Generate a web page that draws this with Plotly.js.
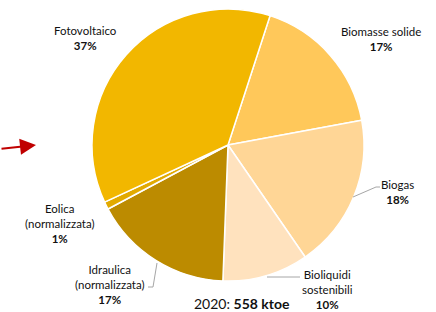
<!DOCTYPE html>
<html><head><meta charset="utf-8">
<script src="https://cdn.plot.ly/plotly-3.0.1.min.js"></script>
<style>html,body{margin:0;padding:0;background:#fff}#c{width:436px;height:312px}</style>
</head><body><div id="c"></div>
<script>
const categories = ["Biomasse solide", "Biogas", "Bioliquidi sostenibili", "Idraulica (normalizzata)", "Eolica (normalizzata)", "Fotovoltaico"];
const labelLines = [["Biomasse solide"], ["Biogas"], ["Bioliquidi", "sostenibili"], ["Idraulica", "(normalizzata)"], ["Eolica", "(normalizzata)"], ["Fotovoltaico"]];
const shares = [17.1, 18.3, 10.2, 16.6, 0.9, 36.9];
const colors = ["#FFC85A", "#FFD696", "#FFE2BE", "#BC8B00", "#E2AA00", "#F2B700"];
const yearLabel = "2020";
const totalLabel = "558 ktoe";

const W = 436, H = 312;
const px = x => x / W, py = y => 1 - y / H;
const labelPos = [[381, 30], [397, 183], [327, 273], [110, 268], [60, 207], [85, 29]];
const font = {family: "Lato, 'Open Sans', sans-serif", size: 11.5, color: "#111"};

const annotations = categories.map((c, i) => ({
  xref: "paper", yref: "paper", x: px(labelPos[i][0]), y: py(labelPos[i][1] - 7),
  xanchor: "center", yanchor: "top", showarrow: false, align: "center",
  text: labelLines[i].join("<br>") + "<br><b>" + Math.round(shares[i]) + "%</b>",
  font: font
}));
annotations.push({
  xref: "paper", yref: "paper", x: px(242), y: py(303), xanchor: "center", yanchor: "middle",
  showarrow: false, text: yearLabel + ": <b>" + totalLabel + "</b>",
  font: {family: font.family, size: 14, color: "#111"}
});
annotations.push({
  xref: "paper", yref: "paper", x: px(36), y: py(145), ax: px(0), ay: py(149),
  axref: "paper", ayref: "paper", showarrow: true, arrowhead: 2, arrowsize: 1.6,
  arrowwidth: 2, arrowcolor: "#C00000", text: ""
});

const lineStyle = {color: "#A6A6A6", width: 1};
const seg = (x0, y0, x1, y1) => ({type: "line", xref: "paper", yref: "paper",
  x0: px(x0), y0: py(y0), x1: px(x1), y1: py(y1), line: lineStyle});
const shapes = [
  seg(148, 287, 153, 287), seg(153, 287, 157, 263),
  seg(380, 187, 376, 187), seg(376, 187, 353, 197),
  seg(300, 277, 267, 277)
];

Plotly.newPlot("c", [{
  type: "pie", labels: categories, values: shares, sort: false,
  direction: "clockwise", rotation: 18, textinfo: "none", hoverinfo: "label+percent",
  marker: {colors: colors, line: {color: "#fff", width: 1.5}},
  domain: {x: [px(92), px(364)], y: [py(281), py(9)]}, showlegend: false
}], {
  width: W, height: H, margin: {l: 0, r: 0, t: 0, b: 0},
  paper_bgcolor: "#fff", annotations: annotations, shapes: shapes, font: font
}, {staticPlot: true});
</script></body></html>
